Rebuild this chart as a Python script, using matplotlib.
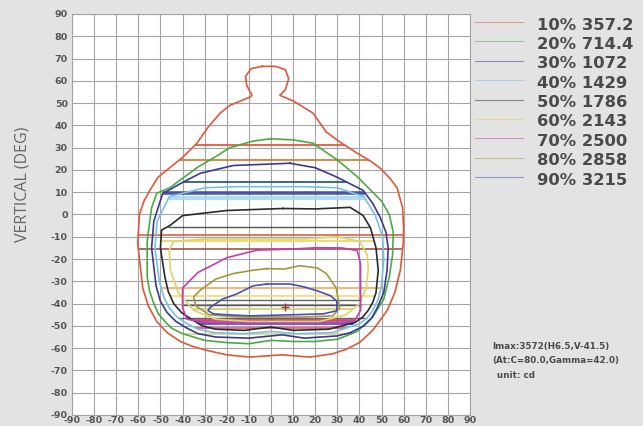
import numpy as np
import matplotlib
matplotlib.use('Agg')
import matplotlib.pyplot as plt
from matplotlib.lines import Line2D

# isocandela levels
levels = ['10%', '20%', '30%', '40%', '50%', '60%', '70%', '80%', '90%']
cd_values = ['357.2', '714.4', '1072', '1429', '1786', '2143', '2500', '2858', '3215']

# contour outlines (H deg, V deg)
h10 = [-4, 2, 6.5, 8, 6.5, 4, 10, 19, 25, 32, 39, 45, 49.5, 54, 57, 59.5, 60, 59.8, 58.5, 56, 52.6,
       46, 40, 34, 28, 17.7, 5, -9.5, -20, -29, -36, -41, -47, -51.7, -55.5, -58, -60.3, -59.5, -57.5, -54.8, -51.2, -45.8,
       -39.9, -33.5, -28.6, -23, -18.6, -9.5, -8.6, -11, -11.5, -9]
v10 = [66.5, 66.5, 65, 61, 56, 53.5, 51, 45.5, 37, 32, 27.5, 24, 20.7, 16, 12, 3, -6, -13, -25, -35, -43,
       -52, -57.5, -60.5, -62.5, -64, -63, -64, -63, -61, -59, -57, -53, -48, -41, -33, -13, 0, 6, 10.8, 16.6, 21,
       25.7, 32, 39, 45.5, 49, 52.7, 53.5, 58, 62, 65.5]
h20 = [0, 10, 19, 30, 39, 45, 50, 53.5, 55.3, 55, 53.5, 51, 46, 39, 30, 20, 10, 0, -10, -20, -30,
       -40, -45, -48, -51, -53, -55, -56, -56, -54, -51.7, -45.8, -33.5, -25, -18.6, -8]
v20 = [34, 33.5, 32, 24.5, 17, 11, 6, 0, -8, -18, -28, -38, -46, -52.5, -56, -57, -57, -56.5, -58, -57.5, -56.5,
       -53.5, -51, -48, -44.5, -40, -34, -28, -12, 3, 9.5, 12, 21, 26, 30, 33]
h30 = [8.6, 20, 30, 41.7, 46, 49.4, 52, 53, 52.5, 51, 48, 45.5, 42, 36, 30, 15, 5, -10, -25, -33, -38, -43, -47, -50, -52, -54,
       -53, -49, -40, -32, -17]
v30 = [23, 21, 16.7, 10.8, 5, -1.3, -8, -15, -25, -35, -42, -46.5, -50, -53, -54.5, -55.5, -54, -55.5, -55, -53.5, -51, -48, -44, -39, -32, -15,
       -3, 9.4, 14.4, 18.5, 22]
h40 = [0, 15, 30, 42, 47, 50.5, 51, 50, 48.5, 46, 43.5, 40, 28, 12, 0, -12, -26, -33, -38, -42.5, -46, -48.5, -50.5, -52.5, -51.5,
       -46, -30, -15]
v40 = [12.5, 12.5, 12, 8, 0, -10, -20, -32, -38, -43, -46.5, -49, -53, -53.5, -52.5, -53.5, -53, -51.5, -49, -46, -42, -37, -30, -15, -3,
       8, 12, 12.5]
h50 = [5.4, 20, 35.8, 41.7, 45, 47.5, 48.5, 47.5, 46, 44, 41.5, 38, 26, 10, 0, -12, -25, -31, -36, -40.5, -44, -46.5, -48, -50, -49.5,
       -45.8, -40, -20]
v50 = [2.7, 2.5, 3.2, -0.5, -6, -15, -25, -35, -39.5, -43, -46, -48.5, -51.5, -52, -50.5, -52, -51.5, -50, -47, -44, -40, -34.5, -28, -15, -7,
       -5, -0.5, 1.8]
h60 = [0, 15, 30, 40, 43.5, 44, 43, 40, 34, 22, 8, -10, -25, -35, -42, -45.5, -46, -44, -30, -15]
v60 = [-11, -11, -10, -12, -18, -25, -33, -40, -45, -48, -48, -48, -47, -43, -35, -25, -16, -12, -11, -11]
h70 = [-6.3, 10, 20.8, 32, 39, 40.5, 40.5, 38, 30, 10, -10, -30, -38, -40, -40, -33, -20]
v70 = [-16, -15.5, -14.9, -15, -16.2, -22, -43, -47.5, -49, -49, -49, -48.5, -47, -42, -33, -26, -19.4]
h80 = [-1.8, 6, 13, 21, 25, 29.5, 31, 28, 15, 0, -15, -28, -34, -35, -32, -25, -17, -8]
v80 = [-24.3, -24.5, -23, -24, -26.5, -33, -42, -45.5, -46, -46, -46, -45, -41, -37, -34, -29, -26.5, -25]
h90 = [-2, 8.6, 15, 20.7, 27, 29.8, 29.8, 23.6, 10, -9.5, -20, -26, -28.5, -27.6, -22, -15.6, -8]
v90 = [-31.2, -31.2, -32.5, -34.2, -36.5, -39, -43.2, -44.6, -45, -45.5, -45, -44.6, -43.2, -41.8, -38, -35.7, -32]

contours_h = [h10, h20, h30, h40, h50, h60, h70, h80, h90]
contours_v = [v10, v20, v30, v40, v50, v60, v70, v80, v90]

# horizontal chord lines: V value and which contour they span
chord_v = [31, 24.3, 14.4, 9.6, 7.5, -5.5, -9.4, -12, -15.4, -33, -36.5, -38.5, -40.5, -42.5,
           -46.3, -47.5, -48.7, -51, -53.5]
chord_lvl = [0, 0, 2, 2, 3, 4, 0, 4, 0, 3, 4, 5, 6, 5, 3, 6, 4, 3, 1]

imax_h, imax_v = 6.5, -41.5

ticks = list(range(-90, 91, 10))
tick_labels = [str(t) for t in ticks]

colors = ['#e0583a', '#4caa44', '#3a3a96', '#78c0e4', '#2a2a2a', '#e2d268', '#c43cb4', '#a09a3a', '#4450b4']
chord_colors = ['#e05a40', '#c8843c', '#2f6070', '#3a4aa0', '#a8d8f0', '#444444', '#e05a40', '#f0d860',
                '#a05040', '#f0a050', '#f0d860', '#555555', '#444444', '#d8d070', '#555555', '#d03070',
                '#3050c0', '#e04060', '#d8d070']
chord_lw = [1.5, 1.5, 1.5, 2.6, 3.0, 1.0, 1.3, 1.5, 1.3, 1.2, 1.2, 1.0, 1.0, 1.5, 1.0, 2.0, 2.0, 1.2, 1.2]


def chord_extent(hs, vs, v):
    h = np.r_[hs, hs[0]]
    w = np.r_[vs, vs[0]]
    xs = []
    for i in range(len(h) - 1):
        v0, v1 = w[i], w[i + 1]
        if v0 != v1 and (v0 - v) * (v1 - v) <= 0:
            t = (v - v0) / (v1 - v0)
            xs.append(h[i] + t * (h[i + 1] - h[i]))
    return min(xs), max(xs)


W, H = 643, 426
fig = plt.figure(figsize=(W / 100, H / 100), dpi=100)
fig.patch.set_facecolor('#e3e3e3')
ax = fig.add_axes([72 / W, 1 - 415 / H, 398 / W, 401 / H])
ax.set_facecolor('white')
ax.set_xlim(-90, 90)
ax.set_ylim(-90, 90)
ax.set_xticks(ticks)
ax.set_yticks(ticks)
ax.set_xticklabels(tick_labels)
ax.set_yticklabels(tick_labels)
ax.tick_params(length=0, pad=3, labelsize=6.8, labelcolor='#555555')
ax.tick_params(axis='x', pad=1)
for lab in ax.get_xticklabels() + ax.get_yticklabels():
    lab.set_fontfamily('DejaVu Sans')
    lab.set_fontweight('bold')
ax.grid(True, color='#a4a4a4', lw=0.8)
ax.set_axisbelow(True)
for s in ax.spines.values():
    s.set_color('#a4a4a4')
    s.set_linewidth(0.8)

# chords first, contours on top
for v, lvl, c, lw in zip(chord_v, chord_lvl, chord_colors, chord_lw):
    x0, x1 = chord_extent(contours_h[lvl], contours_v[lvl], v)
    ax.plot([x0, x1], [v, v], color=c, lw=lw, alpha=0.9, solid_capstyle='butt')

for hs, vs, c in zip(contours_h, contours_v, colors):
    ax.plot(np.r_[hs, hs[0]], np.r_[vs, vs[0]], color=c, lw=1.2)

ax.plot(imax_h, imax_v, marker='+', color='#b03030', ms=6, mew=1)

fig.text(23 / W, 1 - 184 / H, 'VERTICAL (DEG)', rotation=90, ha='center', va='center',
         fontsize=11.5, color='#666666', family='Open Sans')

# legend
for i, (lev, val, c) in enumerate(zip(levels, cd_values, colors)):
    yc = 25 + i * 19.4
    fig.add_artist(Line2D([475 / W, 523 / W], [1 - (yc - 3) / H, 1 - (yc - 3) / H],
                          color=c, lw=0.8, alpha=0.5))
    fig.text(537 / W, 1 - yc / H, f'{lev} {val}', ha='left', va='center', fontsize=11.8,
             fontweight='bold', color='#4a4a4a', family='DejaVu Sans')

fig.text(492 / W, 1 - 347 / H, 'Imax:3572(H6.5,V-41.5)', ha='left', va='center', fontsize=6.3,
         fontweight='bold', color='#4a4a4a', family='DejaVu Sans')
fig.text(492 / W, 1 - 360 / H, '(At:C=80.0,Gamma=42.0)', ha='left', va='center', fontsize=6.3,
         fontweight='bold', color='#4a4a4a', family='DejaVu Sans')
fig.text(497 / W, 1 - 375 / H, 'unit: cd', ha='left', va='center', fontsize=6.3,
         fontweight='bold', color='#4a4a4a', family='DejaVu Sans')

fig.savefig('out.png', dpi=100, facecolor=fig.get_facecolor())
